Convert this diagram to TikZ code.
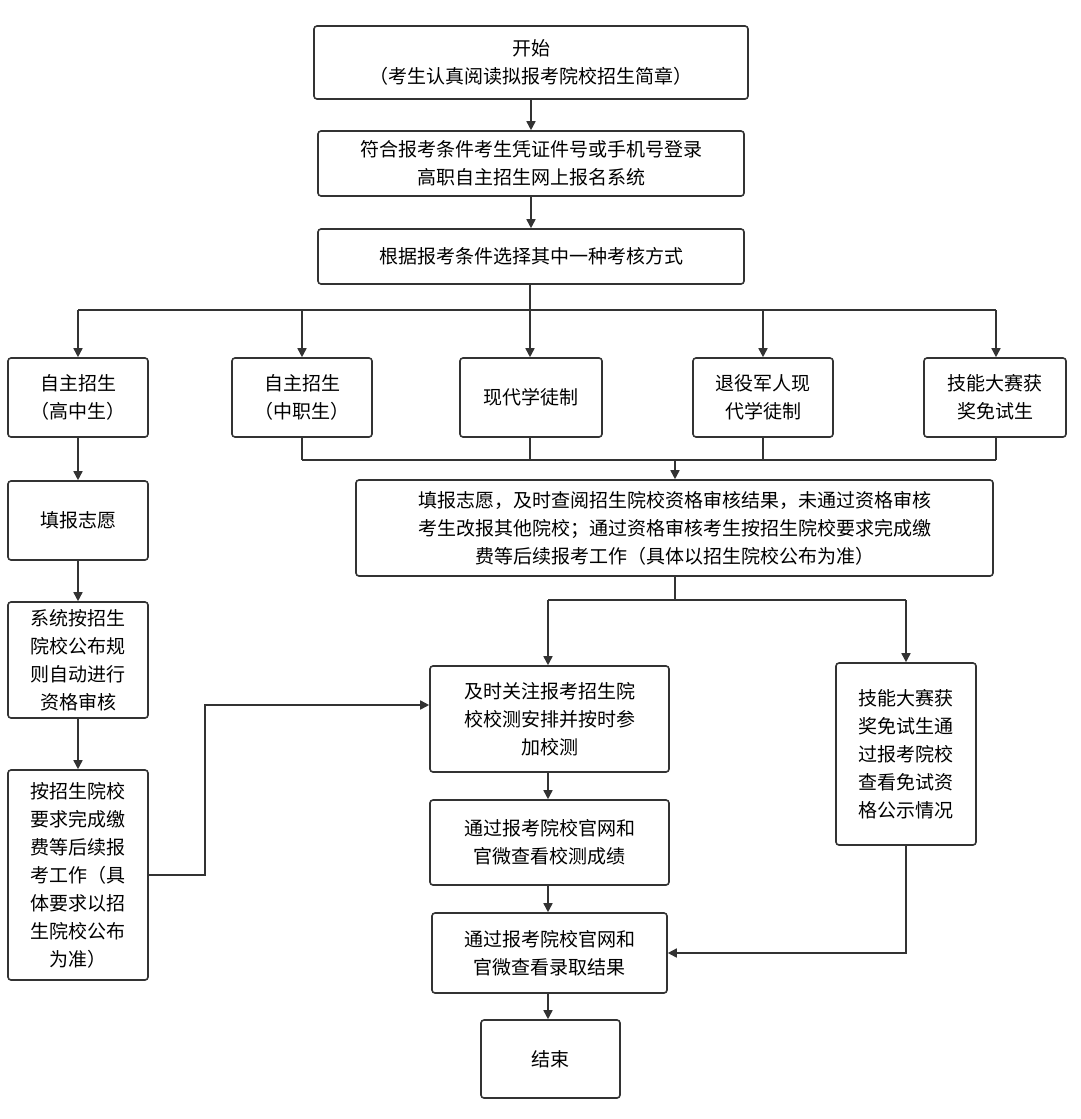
\documentclass[tikz,border=0pt]{standalone}
\usepackage{fontspec}
\setmainfont{Noto Sans CJK SC}
\usetikzlibrary{arrows.meta}
\begin{document}
\begin{tikzpicture}[x=1pt,y=-1pt,
  bx/.style={draw=black!80,line width=1.6pt,rounded corners=3pt,align=center,font=\fontsize{19}{28}\selectfont,inner sep=0pt},
  ln/.style={draw=black!80,line width=1.6pt},
  ar/.style={ln,-{Triangle[length=9pt,width=9pt]}}]
\useasboundingbox (0,0) rectangle (1080,1119);
\newcommand\B[6]{\node[bx,minimum width=#4-#2,minimum height=#5-#3] (#1) at ({(#2+#4)/2},{(#3+#5)/2}) {#6};}
\B{start}{314}{26}{748}{99}{开始\\（考生认真阅读拟报考院校招生简章）}
\B{login}{318}{131}{744}{196}{符合报考条件考生凭证件号或手机号登录\\高职自主招生网上报名系统}
\B{choose}{318}{229}{744}{284}{根据报考条件选择其中一种考核方式}
\B{b1}{8}{358}{148}{437}{自主招生\\（高中生）}
\B{b2}{232}{358}{372}{437}{自主招生\\（中职生）}
\B{b3}{460}{358}{602}{437}{现代学徒制}
\B{b4}{693}{358}{833}{437}{退役军人现\\代学徒制}
\B{b5}{924}{358}{1066}{437}{技能大赛获\\奖免试生}
\B{merge}{356}{480}{993}{576}{填报志愿，及时查阅招生院校资格审核结果，未通过资格审核\\考生改报其他院校；通过资格审核考生按招生院校要求完成缴\\费等后续报考工作（具体以招生院校公布为准）}
\B{fill}{8}{481}{148}{560}{填报志愿}
\B{sys}{8}{602}{148}{718}{系统按招生\\院校公布规\\则自动进行\\资格审核}
\B{pay}{8}{770}{148}{980}{按招生院校\\要求完成缴\\费等后续报\\考工作（具\\体要求以招\\生院校公布\\为准）}
\B{attend}{430}{666}{669}{772}{及时关注报考招生院\\校校测安排并按时参\\加校测}
\B{score}{430}{800}{669}{885}{通过报考院校官网和\\官微查看校测成绩}
\B{result}{432}{913}{667}{993}{通过报考院校官网和\\官微查看录取结果}
\B{end}{481}{1020}{620}{1098}{结束}
\B{skill}{836}{663}{976}{845}{技能大赛获\\奖免试生通\\过报考院校\\查看免试资\\格公示情况}
\coordinate (s1) at (530,310);
\draw[ar] (start) -- (login);
\draw[ar] (login) -- (choose);
\draw[ln] (choose.south -| s1) -- (s1);
\draw[ln] (78,310) -- (996,310);
\foreach \n/\x in {b1/78,b2/302,b3/530,b4/763,b5/996}{\draw[ar] (\x,310) -- (\n.north -| {(\x,0)});}
\foreach \n/\x in {b2/302,b3/530,b4/763,b5/996}{\draw[ln] (\n.south -| {(\x,0)}) -- (\x,460);}
\draw[ln] (302,460) -- (996,460);
\draw[ar] (675,460) -- (merge.north -| {(675,0)});
\draw[ln] (merge.south -| {(675,0)}) -- (675,600);
\draw[ln] (548,600) -- (906,600);
\draw[ar] (548,600) -- (attend.north -| {(548,0)});
\draw[ar] (906,600) -- (skill.north -| {(906,0)});
\draw[ar] (b1) -- (fill);
\draw[ar] (fill) -- (sys);
\draw[ar] (sys) -- (pay);
\draw[ar] (pay.east |- {(0,875)}) -- (205,875) -- (205,705) -- (attend.west |- {(0,705)});
\draw[ar] (attend.south -| {(548,0)}) -- (score.north -| {(548,0)});
\draw[ar] (score.south -| {(548,0)}) -- (result.north -| {(548,0)});
\draw[ar] (result.south -| {(548,0)}) -- (end.north -| {(548,0)});
\draw[ar] (skill.south -| {(906,0)}) -- (906,953) -- (result.east |- {(0,953)});
\end{tikzpicture}
\end{document}
